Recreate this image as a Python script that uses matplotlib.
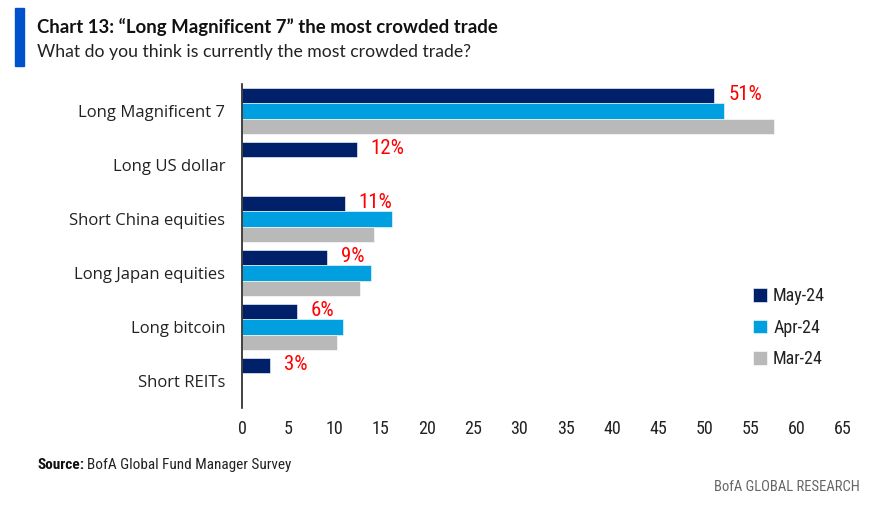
import matplotlib.pyplot as plt
import numpy as np
from matplotlib.patches import Rectangle

categories = ["Long Magnificent 7", "Long US dollar", "Short China equities",
              "Long Japan equities", "Long bitcoin", "Short REITs"]
series_names = ["May-24", "Apr-24", "Mar-24"]
may24 = [51.1, 12.4, 11.1, 9.2, 5.9, 3.0]
apr24 = [52.1, np.nan, 16.2, 13.9, 10.9, np.nan]
mar24 = [57.5, np.nan, 14.3, 12.8, 10.3, np.nan]
labels = ["51%", "12%", "11%", "9%", "6%", "3%"]
xticks = list(range(0, 70, 5))

colors = ["#002169", "#009FDF", "#B9B9B9"]
narrow = ["Roboto Condensed", "Roboto", "DejaVu Sans"]
plt.rcParams["font.family"] = ["Open Sans", "DejaVu Sans"]

fig = plt.figure(figsize=(8.71, 5.23), dpi=100)
ax = fig.add_axes([242 / 871, 1 - 408 / 523, (843 - 242) / 871, (408 - 84) / 523])

y = np.arange(len(categories))
h = 0.28
for i, (vals, name) in enumerate(zip([may24, apr24, mar24], series_names)):
    ax.barh(y + (i - 1) * h, vals, height=h, color=colors[i], label=name,
            edgecolor="white", linewidth=0.4)

for yi, v, lab in zip(y, may24, labels):
    ax.text(v + 1.5, yi - h - 0.02, lab, color="#FF0000", fontsize=15, va="center",
            ha="left", family=narrow)

ax.set_xlim(0, 65)
ax.set_ylim(5.5, -0.5)
ax.set_yticks(y)
ax.set_yticklabels(categories, fontsize=12, color="#222222")
ax.set_xticks(xticks)
ax.set_xticklabels([str(t) for t in xticks], fontsize=13, family=narrow, color="#222222")
ax.tick_params(axis="both", length=0)
ax.tick_params(axis="y", pad=12)
ax.tick_params(axis="x", pad=9)
for s in ["top", "right", "bottom"]:
    ax.spines[s].set_visible(False)
ax.spines["left"].set_color("#222222")
ax.spines["left"].set_linewidth(1.2)

leg = ax.legend(loc="upper left", bbox_to_anchor=(737 / 871, 1 - 271 / 523),
                bbox_transform=fig.transFigure, frameon=False,
                handlelength=0.75, handleheight=0.75, handletextpad=0.35,
                labelspacing=0.75, prop={"family": narrow, "size": 13})
for t in leg.get_texts():
    t.set_color("#222222")

# header
fig.patches.append(Rectangle((15 / 871, 1 - 66 / 523), 9 / 871, 58 / 523,
                             transform=fig.transFigure, color="#0052CC"))
fig.text(37 / 871, 1 - 27 / 523, "Chart 13: \u201cLong Magnificent 7\u201d the most crowded trade",
         fontsize=13.4, fontweight="bold", va="center", color="#111111",
         family=["Lato", "DejaVu Sans"])
fig.text(37 / 871, 1 - 52 / 523, "What do you think is currently the most crowded trade?",
         fontsize=12.7, va="center", color="#222222", family=["Lato", "DejaVu Sans"])

# footer
t1 = fig.text(37 / 871, 1 - 465 / 523, "Source:", fontsize=11, fontweight="bold",
              va="center", family=narrow, color="#111111")
fig.canvas.draw()
bb = t1.get_window_extent()
fig.text(bb.x1 / 871 + 3 / 871, 1 - 465 / 523, "BofA Global Fund Manager Survey",
         fontsize=11, va="center", family=narrow, color="#222222")
fig.text(860 / 871, 1 - 487 / 523, "BofA GLOBAL RESEARCH", fontsize=10.5,
         va="center", ha="right", family=narrow, color="#666666")

fig.savefig("out.png", dpi=100)
